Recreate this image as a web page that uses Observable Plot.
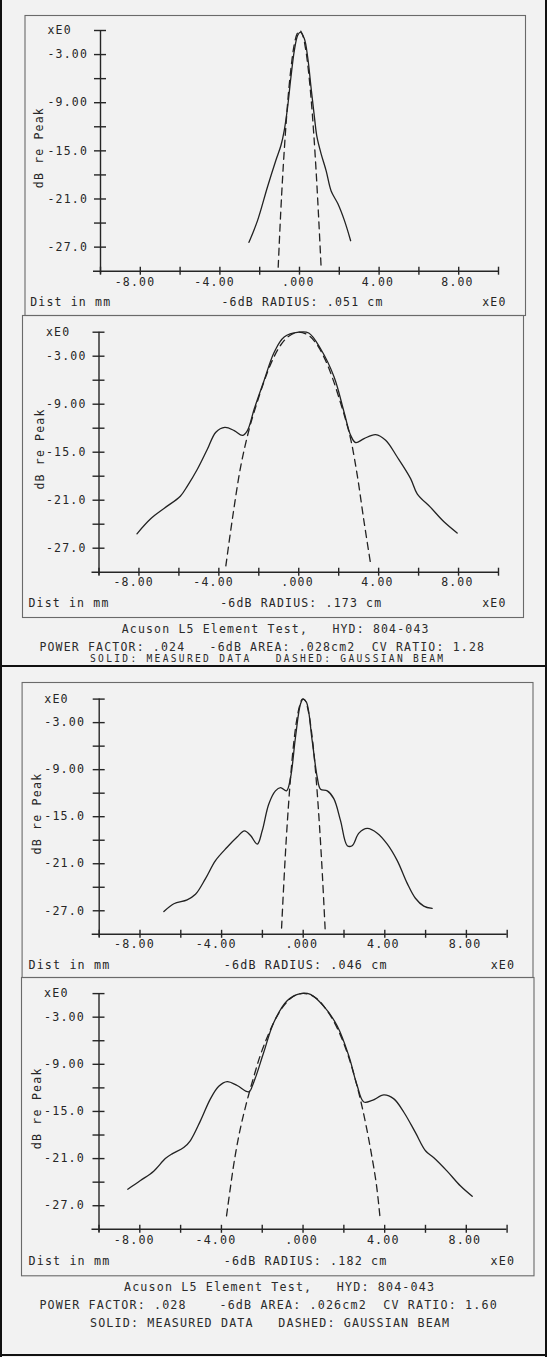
<!DOCTYPE html>
<html><head><meta charset="utf-8">
<script src="https://cdn.jsdelivr.net/npm/d3@7"></script>
<script src="https://cdn.jsdelivr.net/npm/@observablehq/plot@0.6"></script>
<style>
body{margin:0;background:#f2f2f2}
#page{position:relative;width:547px;height:1357px;background:#f2f2f2;overflow:hidden;font-family:"DejaVu Sans Mono",monospace;color:#2b2b2b}
.cap{position:absolute;white-space:pre;line-height:14px}
.bar{position:absolute;background:#111}
</style></head><body>
<div id="page"></div>
<script>
// ---- axis ticks & labels ----
const xTickValues = [-10,-8,-6,-4,-2,0,2,4,6,8,10];
const xLabelValues = [-8,-4,0,4,8];
const xLabelTexts = ["-8.00","-4.00",".000","4.00","8.00"];
const yTickValues = [0,-3,-6,-9,-12,-15,-18,-21,-24,-27];
const yLabelValues = [0,-3,-9,-15,-21,-27];
const yLabelTexts = ["xE0","-3.00","-9.00","-15.0","-21.0","-27.0"];
const yTitle = "dB re Peak";
const xTitle = "Dist in mm";
const xExp = "xE0";

// ---- panel 1 (top, narrow beam) ----
const p1Measured = [[-2.54,-26.4],[-2.11,-23.7],[-1.61,-19.5],[-1.19,-16.2],[-0.93,-14.3],[-0.77,-12.5],[-0.6,-9.6],[-0.43,-5.8],[-0.26,-2.5],[-0.09,-0.6],[0.04,-0.2],[0.24,-1.0],[0.41,-3.3],[0.58,-7.1],[0.75,-10.8],[0.88,-13.3],[1.09,-15.4],[1.34,-17.5],[1.59,-20.0],[1.93,-21.6],[2.26,-23.7],[2.57,-26.2]];
const p1Gaussian = [[-1.07,-29.5],[-0.95,-23.0],[-0.82,-17.1],[-0.68,-11.8],[-0.54,-7.4],[-0.40,-4.1],[-0.26,-1.7],[-0.12,-0.4],[0.02,0],[0.16,-0.6],[0.30,-2.2],[0.44,-4.8],[0.58,-8.4],[0.72,-13.0],[0.86,-18.6],[0.98,-24.2],[1.09,-29.7]];
const p1Radius = "-6dB RADIUS: .051 cm";

// ---- panel 2 ----
const p2Measured = [[-8.1,-25.2],[-7.4,-23.3],[-6.73,-22.0],[-5.93,-20.5],[-5.57,-19.2],[-5.07,-17.1],[-4.57,-14.6],[-4.15,-12.5],[-3.7,-11.9],[-3.23,-12.3],[-2.82,-12.9],[-2.57,-12.3],[-2.23,-9.6],[-1.73,-6.0],[-1.23,-2.5],[-0.73,-0.6],[0.0,0],[0.5,-0.1],[1.1,-2.1],[1.77,-5.6],[2.27,-10.0],[2.6,-12.9],[2.85,-13.8],[3.27,-13.3],[3.85,-12.8],[4.35,-13.5],[4.93,-15.6],[5.6,-18.3],[5.93,-20.2],[6.6,-21.9],[7.27,-23.7],[7.93,-25.1]];
const p2Gaussian = [[-3.65,-29.2],[-3.32,-23.3],[-2.9,-16.7],[-2.48,-12.1],[-2.1,-8.9],[-1.7,-5.9],[-1.3,-3.4],[-0.9,-1.6],[-0.5,-0.5],[0,0],[0.5,-0.4],[0.9,-1.5],[1.3,-3.3],[1.7,-5.8],[2.1,-8.9],[2.4,-11.4],[2.63,-13.7],[2.93,-17.9],[3.27,-23.7],[3.6,-29.0]];
const p2Radius = "-6dB RADIUS: .173 cm";
const capTop = ["Acuson L5 Element Test,   HYD: 804-043",
                "POWER FACTOR: .024   -6dB AREA: .028cm2  CV RATIO: 1.28",
                "SOLID: MEASURED DATA   DASHED: GAUSSIAN BEAM"];

// ---- panel 3 ----
const p3Measured = [[-6.83,-27.1],[-6.34,-26.1],[-5.69,-25.6],[-5.28,-24.9],[-4.79,-22.9],[-4.3,-20.6],[-3.73,-18.9],[-3.24,-17.6],[-2.88,-16.8],[-2.58,-17.4],[-2.25,-18.5],[-2.01,-16.8],[-1.69,-13.4],[-1.36,-11.7],[-1.11,-11.3],[-0.82,-11.7],[-0.62,-10.0],[-0.38,-4.9],[-0.13,-0.6],[0,0],[0.16,-0.4],[0.44,-5.3],[0.69,-10.0],[0.85,-11.5],[1.18,-11.7],[1.5,-12.7],[1.83,-15.5],[2.16,-18.7],[2.4,-18.7],[2.73,-17.1],[3.14,-16.5],[3.63,-17.1],[4.12,-18.5],[4.61,-20.6],[5.1,-23.5],[5.5,-25.4],[5.91,-26.4],[6.32,-26.7]];
const p3Gaussian = [[-1.06,-29.2],[-0.95,-23.5],[-0.84,-18.3],[-0.72,-13.5],[-0.6,-9.4],[-0.46,-5.5],[-0.32,-2.7],[-0.18,-0.9],[-0.04,0],[0.1,-0.2],[0.24,-1.4],[0.38,-3.6],[0.52,-6.8],[0.66,-11.0],[0.8,-16.2],[0.94,-22.4],[1.08,-29.6]];
const p3Radius = "-6dB RADIUS: .046 cm";

// ---- panel 4 ----
const p4Measured = [[-8.59,-24.9],[-7.97,-23.8],[-7.32,-22.6],[-6.75,-21.0],[-6.42,-20.4],[-5.85,-19.6],[-5.52,-18.7],[-5.03,-16.2],[-4.54,-13.4],[-4.13,-11.8],[-3.72,-11.2],[-3.23,-11.7],[-2.66,-12.5],[-2.42,-11.3],[-1.93,-7.5],[-1.44,-3.7],[-0.78,-0.9],[-0.13,0],[0.36,-0.1],[1.01,-1.6],[1.67,-4.1],[2.24,-7.9],[2.65,-11.7],[2.98,-13.8],[3.39,-13.6],[3.96,-12.9],[4.45,-13.4],[4.94,-15.1],[5.51,-17.7],[6.0,-20.0],[6.41,-20.9],[7.06,-22.6],[7.72,-24.5],[8.29,-25.8]];
const p4Gaussian = [[-3.75,-28.3],[-3.55,-24.5],[-3.35,-21.0],[-3.1,-17.5],[-2.8,-14.2],[-2.45,-10.9],[-2.1,-7.9],[-1.7,-5.2],[-1.3,-3.0],[-0.9,-1.4],[-0.5,-0.4],[-0.1,0],[0.3,-0.1],[0.7,-0.7],[1.1,-1.9],[1.5,-3.5],[1.9,-5.7],[2.3,-8.6],[2.7,-12.3],[3.05,-16.3],[3.35,-20.4],[3.6,-24.4],[3.78,-28.7]];
const p4Radius = "-6dB RADIUS: .182 cm";
const capBottom = ["Acuson L5 Element Test,   HYD: 804-043",
                   "POWER FACTOR: .028    -6dB AREA: .026cm2  CV RATIO: 1.60",
                   "SOLID: MEASURED DATA   DASHED: GAUSSIAN BEAM"];

const page = document.getElementById("page");
const INK = "#262626";

function panel(cfg) {
  const [fl, ft, fr, fb] = cfg.frame;
  const [xa, xb] = cfg.xpx;
  const [ya, yb] = cfg.ypx;
  const pad = 2;
  const svgTop = ft - pad, W = 547, H = fb - ft + 2 * pad;
  const mT = ya - svgTop, mB = svgTop + H - yb;
  const t = cfg.text;
  const svg = Plot.plot({
    width: W, height: H,
    marginLeft: xa, marginRight: W - xb, marginTop: mT, marginBottom: mB,
    x: {domain: [-10, 10], axis: null},
    y: {domain: [-30, 0], axis: null},
    style: {background: "transparent", overflow: "visible", fontFamily: "'DejaVu Sans Mono', monospace",
            fontSize: cfg.fontSize + "px", letterSpacing: cfg.ls + "px", color: INK},
    marks: [
      Plot.frame({stroke: "#6a6a6a", strokeWidth: 1.1,
        insetLeft: fl - xa, insetRight: xb - fr, insetTop: ft - ya, insetBottom: yb - fb}),
      // axes
      Plot.ruleY([-30], {x1: -10, x2: 10, insetLeft: -7, stroke: INK, strokeWidth: 1.4}),
      Plot.ruleX([-10], {y1: 0, y2: -30, insetBottom: -3, stroke: INK, strokeWidth: 1.4}),
      Plot.ruleY(yTickValues, {y: d => d, x1: -10, x2: -10, insetLeft: -6, insetRight: -6, stroke: INK, strokeWidth: 1.4}),
      Plot.ruleX(xTickValues, {x: d => d, y1: -30, y2: -30, insetTop: -4, insetBottom: -4, stroke: INK, strokeWidth: 1.4}),
      // tick labels
      Plot.text(yLabelValues, {x: -10, y: d => d, text: (d, i) => yLabelTexts[i], textAnchor: "start", dx: t.yLab, fill: INK}),
      Plot.text(xLabelValues, {x: d => d, y: -30, text: (d, i) => xLabelTexts[i], textAnchor: "end", dx: 15, dy: t.xLabDy, fill: INK}),
      Plot.text([yTitle], {x: -10, y: -14.6, text: d => d, rotate: -90, dx: t.title, fill: INK}),
      Plot.text([xTitle], {x: -10, y: -30, text: d => d, textAnchor: "start", dx: t.dist, dy: t.rowDy, fill: INK}),
      Plot.text([cfg.radius], {x: 0, y: -30, text: d => d, textAnchor: "middle", dx: t.rad, dy: t.rowDy, fill: INK}),
      Plot.text([xExp], {x: 10, y: -30, text: d => d, textAnchor: "end", dx: 8, dy: t.rowDy, fill: INK}),
      // data
      Plot.line(cfg.gaussian, {x: d => d[0], y: d => d[1], stroke: "#222", strokeWidth: 1.3, strokeDasharray: "7,5", curve: "catmull-rom"}),
      Plot.line(cfg.measured, {x: d => d[0], y: d => d[1], stroke: "#222", strokeWidth: 1.3, curve: "catmull-rom"})
    ]
  });
  svg.style.position = "absolute";
  svg.style.left = "0px";
  svg.style.top = svgTop + "px";
  page.appendChild(svg);
}

panel({frame: [24.5, 15, 525, 315], xpx: [100, 498], ypx: [30, 270.7], measured: p1Measured, gaussian: p1Gaussian,
  radius: p1Radius, fontSize: 11.5, ls: 1.18,
  text: {yLab: -53, xLabDy: 11, title: -61, dist: -70.3, rowDy: 31.3, rad: 3}});
panel({frame: [22, 315, 523, 617], xpx: [98.5, 498], ypx: [331.7, 571.7], measured: p2Measured, gaussian: p2Gaussian,
  radius: p2Radius, fontSize: 11.5, ls: 1.18,
  text: {yLab: -53, xLabDy: 10, title: -58.5, dist: -70.5, rowDy: 31, rad: 2.5}});
panel({frame: [21.6, 681.7, 532.5, 976.7], xpx: [98.7, 506.7], ypx: [698.3, 933.5], measured: p3Measured, gaussian: p3Gaussian,
  radius: p3Radius, fontSize: 11.7, ls: 1.15,
  text: {yLab: -55, xLabDy: 10, title: -62, dist: -70.7, rowDy: 31, rad: 2.5}});
panel({frame: [21, 976.7, 533.5, 1275], xpx: [98.5, 506.6], ypx: [992.8, 1228.5], measured: p4Measured, gaussian: p4Gaussian,
  radius: p4Radius, fontSize: 11.7, ls: 1.15,
  text: {yLab: -55, xLabDy: 10.8, title: -62, dist: -70.5, rowDy: 32.2, rad: 2.5}});

// captions
function caption(text, left, cy, fs, ls) {
  const d = document.createElement("div");
  d.className = "cap";
  d.textContent = text;
  d.style.left = left + "px";
  d.style.top = (cy - 6.8) + "px";
  d.style.fontSize = fs + "px";
  d.style.letterSpacing = ls + "px";
  page.appendChild(d);
}
// top sheet caption: third line squeezed just above the sheet separator
caption(capTop[0], 121.7, 629, 11.5, 1.18);
caption(capTop[1], 39.4, 646.5, 11.5, 1.18);
caption(capTop[2], 90, 659.2, 9.6, 2.3);
caption(capBottom[0], 124, 1286.7, 11.7, 1.15);
caption(capBottom[1], 39.4, 1304.3, 11.7, 1.15);
caption(capBottom[2], 90, 1322.3, 11.7, 1.15);

// page borders of the scanned sheets
function bar(l, t, w, h) {
  const b = document.createElement("div");
  b.className = "bar";
  b.style.cssText += `left:${l}px;top:${t}px;width:${w}px;height:${h}px`;
  page.appendChild(b);
}
bar(0, 0, 2, 1357);
bar(544.5, 0, 2, 1357);
bar(0, 665, 547, 2.2);
bar(0, 1354, 547, 2);
</script>
</body></html>
